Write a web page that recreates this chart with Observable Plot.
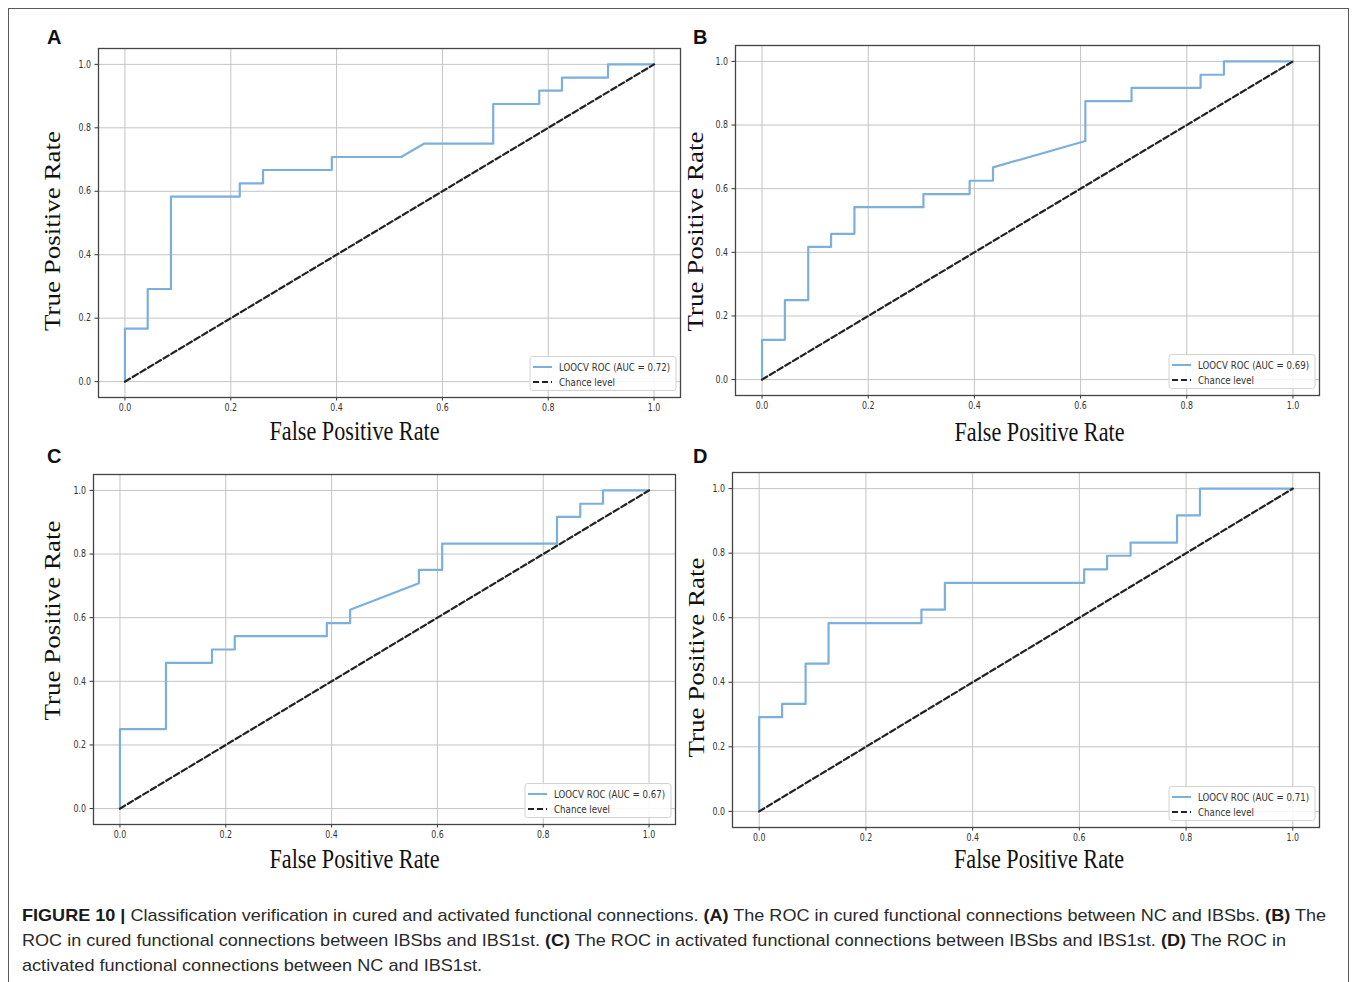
<!DOCTYPE html>
<html>
<head>
<meta charset="utf-8">
<script src="https://cdn.jsdelivr.net/npm/d3@7"></script>
<script src="https://cdn.jsdelivr.net/npm/@observablehq/plot@0.6"></script>
<style>
  html, body { margin: 0; padding: 0; background: #fff; }
  #page { position: relative; width: 1357px; height: 982px; overflow: hidden; background: #fff; }
  #border { position: absolute; left: 8px; top: 8px; width: 1341px; height: 1000px; border: 1.5px solid #5a5a5a; box-sizing: border-box; }
  .panel { position: absolute; }
  .letter { position: absolute; font-family: "Liberation Sans", Arial, sans-serif; font-weight: bold; font-size: 20px; color: #111; line-height: 1; }
  .capline { position: absolute; left: 22px; white-space: nowrap; font-family: "Liberation Sans", Arial, sans-serif; font-size: 17px; color: #2a2a2a; line-height: 25px; transform-origin: 0 50%; }
  .capline b { color: #1a1a1a; }
</style>
</head>
<body>
<div id="page">
  <div id="border"></div>
</div>
<script>
// ---------- data ----------
const xTicks = [0, 0.2, 0.4, 0.6, 0.8, 1.0];
const yTicks = [0, 0.2, 0.4, 0.6, 0.8, 1.0];
const panelLetters = ["A", "B", "C", "D"];
const aucValues = [0.72, 0.69, 0.67, 0.71];
const xAxisLabel = "False Positive Rate";
const yAxisLabel = "True Positive Rate";
const rocLabelPrefix = "LOOCV ROC (AUC = ";
const chanceLabel = "Chance level";

const fprA = [0, 0, 0.043, 0.043, 0.087, 0.087, 0.217, 0.217, 0.261, 0.261, 0.391, 0.391, 0.522, 0.565, 0.696, 0.696, 0.783, 0.783, 0.826, 0.826, 0.913, 0.913, 1.0];
const tprA = [0, 0.167, 0.167, 0.292, 0.292, 0.583, 0.583, 0.625, 0.625, 0.667, 0.667, 0.708, 0.708, 0.75, 0.75, 0.875, 0.875, 0.917, 0.917, 0.958, 0.958, 1.0, 1.0];

const fprB = [0, 0, 0.043, 0.043, 0.087, 0.087, 0.13, 0.13, 0.174, 0.174, 0.304, 0.304, 0.391, 0.391, 0.435, 0.435, 0.609, 0.609, 0.696, 0.696, 0.826, 0.826, 0.87, 0.87, 1.0];
const tprB = [0, 0.125, 0.125, 0.25, 0.25, 0.417, 0.417, 0.458, 0.458, 0.542, 0.542, 0.583, 0.583, 0.625, 0.625, 0.667, 0.75, 0.875, 0.875, 0.917, 0.917, 0.958, 0.958, 1.0, 1.0];

const fprC = [0, 0, 0.087, 0.087, 0.174, 0.174, 0.217, 0.217, 0.391, 0.391, 0.435, 0.435, 0.565, 0.565, 0.609, 0.609, 0.826, 0.826, 0.87, 0.87, 0.913, 0.913, 1.0];
const tprC = [0, 0.25, 0.25, 0.458, 0.458, 0.5, 0.5, 0.542, 0.542, 0.583, 0.583, 0.625, 0.708, 0.75, 0.75, 0.833, 0.833, 0.917, 0.917, 0.958, 0.958, 1.0, 1.0];

const fprD = [0, 0, 0.043, 0.043, 0.087, 0.087, 0.13, 0.13, 0.304, 0.304, 0.348, 0.348, 0.609, 0.609, 0.652, 0.652, 0.696, 0.696, 0.783, 0.783, 0.826, 0.826, 1.0];
const tprD = [0, 0.292, 0.292, 0.333, 0.333, 0.458, 0.458, 0.583, 0.583, 0.625, 0.625, 0.708, 0.708, 0.75, 0.75, 0.792, 0.792, 0.833, 0.833, 0.917, 0.917, 1.0, 1.0];

const chanceFpr = [0, 1];
const chanceTpr = [0, 1];

const fprSeries = [fprA, fprB, fprC, fprD];
const tprSeries = [tprA, tprB, tprC, tprD];

const captionLines = [
  '<b>FIGURE 10 |</b> Classification verification in cured and activated functional connections. <b>(A)</b> The ROC in cured functional connections between NC and IBSbs. <b>(B)</b> The',
  'ROC in cured functional connections between IBSbs and IBS1st. <b>(C)</b> The ROC in activated functional connections between IBSbs and IBS1st. <b>(D)</b> The ROC in',
  'activated functional connections between NC and IBS1st.'
];

// ---------- layout (pixel frame of each panel) ----------
const layout = [
  {l: 97.5, t: 47.5, r: 679.5, b: 396.5, xl: [-35, 33.5], yl: [-45.5, 8], letter: [47, 27]},
  {l: 734.5, t: 44.5, r: 1318.5, b: 394.5, xl: [12, 37], yl: [-39.5, 11], letter: [693, 27]},
  {l: 92.5, t: 473.5, r: 674.5, b: 823.5, xl: [-30, 35], yl: [-40.5, -29], letter: [47, 446]},
  {l: 731.5, t: 471.5, r: 1318.5, b: 826.5, xl: [13, 32], yl: [-36, 7.5], letter: [693, 446]}
];
const mL = 70, mR = 10, mT = 10, mB = 65;
const blue = "#7bb0dc";

const page = document.getElementById("page");

function legendMark(auc, frameRight, frameBottom) {
  return (index, scales, values, dimensions, context) => {
    const boxW = 146, boxH = 34;
    const x0 = frameRight - 4 - boxW, y0 = frameBottom - 6.5 - boxH;
    const g = d3.create("svg:g");
    g.append("rect").attr("x", x0).attr("y", y0).attr("width", boxW).attr("height", boxH)
      .attr("rx", 2.5).attr("fill", "#fff").attr("fill-opacity", 0.85).attr("stroke", "#d2d2d2");
    g.append("line").attr("x1", x0 + 3).attr("x2", x0 + 22).attr("y1", y0 + 10.5).attr("y2", y0 + 10.5)
      .attr("stroke", blue).attr("stroke-width", 2);
    g.append("line").attr("x1", x0 + 3).attr("x2", x0 + 22).attr("y1", y0 + 25.5).attr("y2", y0 + 25.5)
      .attr("stroke", "#222").attr("stroke-width", 2.2).attr("stroke-dasharray", "6,3");
    g.append("text").attr("x", x0 + 29).attr("y", y0 + 10.5).attr("dy", "0.35em")
      .attr("text-anchor", "start")
      .attr("font-size", 10.5).attr("fill", "#333")
      .attr("textLength", 111).attr("lengthAdjust", "spacingAndGlyphs")
      .text(rocLabelPrefix + auc.toFixed(2) + ")");
    g.append("text").attr("x", x0 + 29).attr("y", y0 + 25.5).attr("dy", "0.35em")
      .attr("text-anchor", "start")
      .attr("font-size", 10.5).attr("fill", "#333")
      .attr("textLength", 56).attr("lengthAdjust", "spacingAndGlyphs")
      .text(chanceLabel);
    return g.node();
  };
}

layout.forEach((L, i) => {
  const fw = L.r - L.l, fh = L.b - L.t;
  const width = fw + mL + mR, height = fh + mT + mB;
  const roc = fprSeries[i].map((f, k) => ({fpr: f, tpr: tprSeries[i][k]}));
  const chance = chanceFpr.map((f, k) => ({fpr: f, tpr: chanceTpr[k]}));

  const svg = Plot.plot({
    width, height,
    marginLeft: mL, marginRight: mR, marginTop: mT, marginBottom: mB,
    style: {fontFamily: "DejaVu Sans", fontSize: "10px", color: "#333", background: "transparent", overflow: "visible"},
    x: {domain: [-0.05, 1.05], ticks: xTicks, tickFormat: d => d.toFixed(1), tickSize: 3.5, tickPadding: 3, label: null},
    y: {domain: [-0.05, 1.05], ticks: yTicks, tickFormat: d => d.toFixed(1), tickSize: 3.5, tickPadding: 4, label: null},
    marks: [
      Plot.gridX(xTicks, {stroke: "#c4c4c4", strokeOpacity: 1, strokeWidth: 1}),
      Plot.gridY(yTicks, {stroke: "#c4c4c4", strokeOpacity: 1, strokeWidth: 1}),
      Plot.line(roc, {x: "fpr", y: "tpr", stroke: blue, strokeWidth: 2.2}),
      Plot.line(chance, {x: "fpr", y: "tpr", stroke: "#222", strokeWidth: 2.2, strokeDasharray: "6,3"}),
      Plot.frame({stroke: "#444", strokeWidth: 1.3}),
      Plot.text([xAxisLabel], {text: d => d, frameAnchor: "bottom", dx: L.xl[0], dy: L.xl[1], lineAnchor: "middle", textAnchor: "middle",
        fontFamily: "Liberation Serif", fontSize: 27, fill: "#111"}),
      Plot.text([yAxisLabel], {text: d => d, frameAnchor: "left", rotate: -90, dx: L.yl[0], dy: L.yl[1], lineAnchor: "middle", textAnchor: "middle",
        fontFamily: "Liberation Serif", fontSize: 27, fill: "#111"}),
      legendMark(aucValues[i], mL + fw, mT + fh)
    ]
  });
  const holder = document.createElement("div");
  holder.className = "panel";
  holder.style.left = (L.l - mL) + "px";
  holder.style.top = (L.t - mT) + "px";
  holder.appendChild(svg);
  page.appendChild(holder);

  d3.select(svg).selectAll("text").each(function() {
    const t = this.textContent;
    const s = d3.select(this);
    if (/^\d\.\d$/.test(t)) {
      s.attr("textLength", 12.5).attr("lengthAdjust", "spacingAndGlyphs");
    } else if (t === xAxisLabel) {
      s.attr("textLength", 170).attr("lengthAdjust", "spacingAndGlyphs");
    } else if (t === yAxisLabel) {
      const tr = s.attr("transform") || "";
      s.attr("transform", tr + " scale(1,0.82)");
    }
  });

  const letter = document.createElement("div");
  letter.className = "letter";
  letter.style.left = L.letter[0] + "px";
  letter.style.top = L.letter[1] + "px";
  letter.textContent = panelLetters[i];
  page.appendChild(letter);
});

// caption
const capTargets = [1304, 1264, 460];
captionLines.forEach((html, i) => {
  const d = document.createElement("div");
  d.className = "capline";
  d.style.top = (903 + i * 25) + "px";
  d.innerHTML = html;
  page.appendChild(d);
  const w = d.getBoundingClientRect().width;
  d.style.transform = `scaleX(${capTargets[i] / w})`;
});
</script>
</body>
</html>
